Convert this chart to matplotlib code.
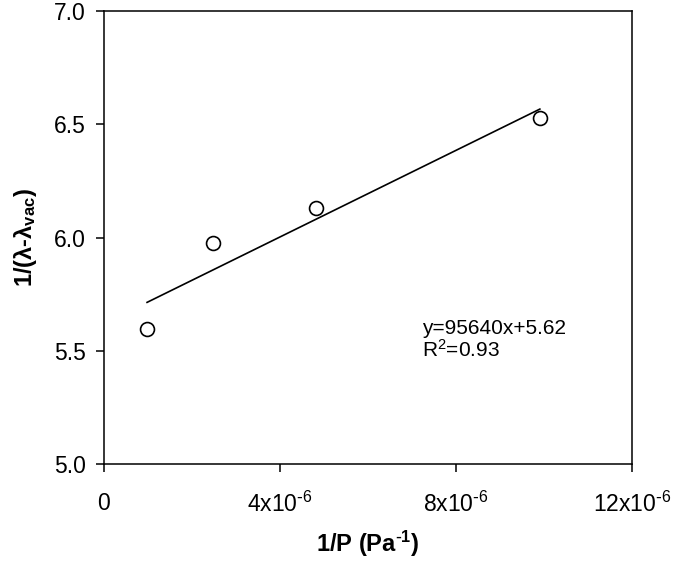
import matplotlib
matplotlib.use("Agg")
import matplotlib.pyplot as plt
import numpy as np
from matplotlib.ticker import FixedLocator, FixedFormatter

plt.rcParams["font.family"] = ["Liberation Sans", "DejaVu Sans"]
plt.rcParams["mathtext.default"] = "regular"

# data
inv_p = [0.98e-6, 2.48e-6, 4.82e-6, 9.91e-6]
inv_dlam = [5.597, 5.976, 6.131, 6.528]

slope = 95640
intercept = 5.62
x_ticks = [0, 4e-6, 8e-6, 12e-6]
x_labels = ["0", "4x10$^{\\text{-}6}$", "8x10$^{\\text{-}6}$", "12x10$^{\\text{-}6}$"]
y_ticks = [5.0, 5.5, 6.0, 6.5, 7.0]

fig = plt.figure(figsize=(6.75, 5.63), dpi=100)
ax = fig.add_axes([0.154, 0.176, 0.782, 0.804])

# fitted line over the data range
xf = np.array([min(inv_p), max(inv_p)])
ax.plot(xf, slope * xf + intercept, color="black", lw=1.2, zorder=2)
ax.plot(inv_p, inv_dlam, "o", ms=10, mfc="white", mec="black", mew=1.2, zorder=3)

ax.set_xlim(0, 12e-6)
ax.set_ylim(5.0, 7.0)
ax.xaxis.set_major_locator(FixedLocator(x_ticks))
ax.xaxis.set_major_formatter(FixedFormatter(x_labels))
ax.set_yticks(y_ticks)
ax.set_yticklabels([f"{v:.1f}" for v in y_ticks])
ax.tick_params(direction="out", length=6, width=1.1, labelsize=16.5)
ax.tick_params(axis="x", pad=14)
ax.tick_params(axis="y", pad=7)
for s in ax.spines.values():
    s.set_linewidth(1.1)

ax.set_xlabel("1/P (Pa$^{\\text{-}1}$)", fontsize=17, fontweight="bold")
ax.set_ylabel("1/(λ-λ$_{vac}$)", fontsize=17, fontweight="bold")
ax.xaxis.label.set_va("center")
ax.yaxis.label.set_va("center")
ax.xaxis.set_label_coords(0.5, -0.176)
ax.yaxis.set_label_coords(-0.148, 0.5)

ax.text(7.23e-6, 5.55, "y=95640x+5.62\nR$^2$=0.93", fontsize=15, va="center",
        ha="left", linespacing=1.05)

fig.savefig("out.png", dpi=100)
